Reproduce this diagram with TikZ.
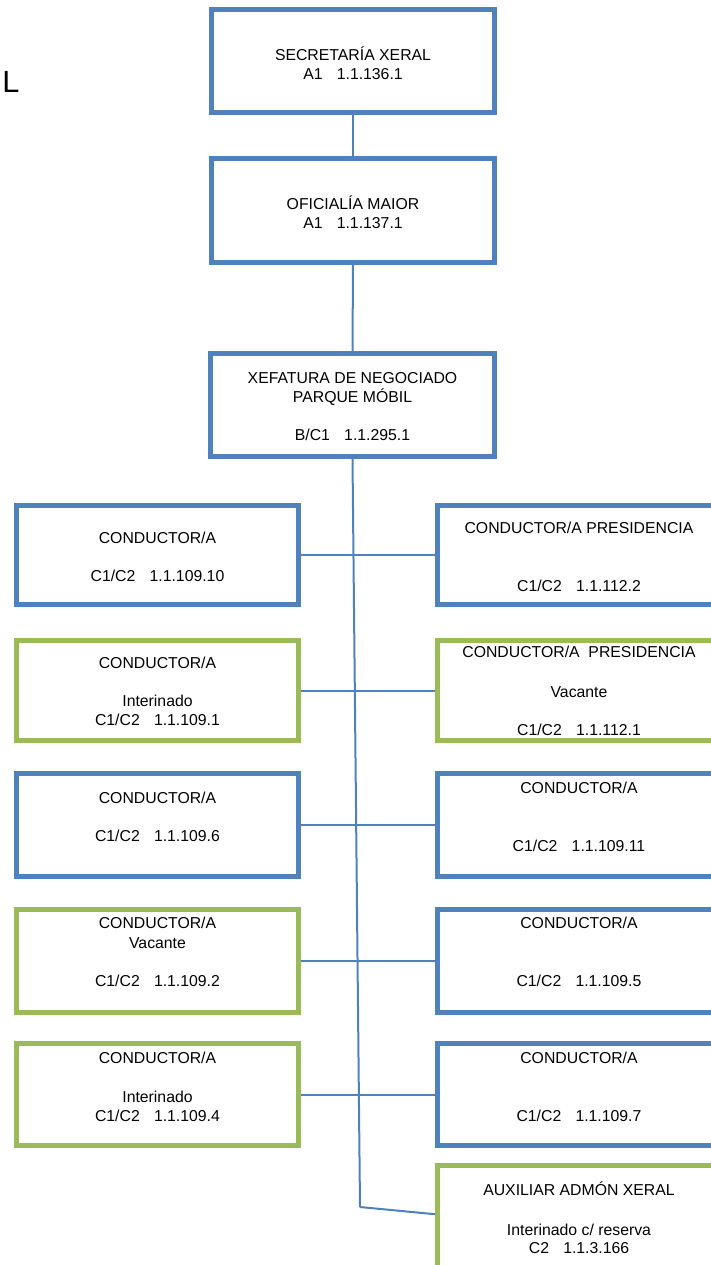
\documentclass[tikz,border=0pt]{standalone}
\usepackage{fontspec}
\setmainfont{Liberation Sans}
\usetikzlibrary{calc}
\definecolor{boxblue}{HTML}{4F81BD}
\definecolor{boxgreen}{HTML}{9BBB59}
\newcommand\sgap{\hspace{0.9em}}
\begin{document}
\begin{tikzpicture}[x=0.75pt,y=-0.75pt,
  box/.style={draw, line width=3.4pt, inner sep=0pt, fill=white},
  blubox/.style={box, draw=boxblue},
  grnbox/.style={box, draw=boxgreen},
  sz/.style 2 args={minimum width=#1*0.75pt, minimum height=#2*0.75pt},
  txt/.style={font=\fontsize{11.85}{14.25}\selectfont, align=center, inner sep=0pt},
  link/.style={draw=boxblue, line width=1.5pt},
]
\useasboundingbox (0,0) rectangle (711,1265);
\begin{scope}
\clip (0,0) rectangle (711,1265);

\node[font=\fontsize{23}{28}\selectfont, inner sep=0pt, anchor=base west] (lbl) at (2,92) {L};

% top chain
\node[blubox, sz={283}{103}] (sec) at (353,61) {};
\node[txt] (secT) at (353,63) {SECRETARÍA XERAL\\A1\sgap 1.1.136.1};
\node[blubox, sz={283}{104}] (ofi) at (353,210.5) {};
\node[txt] (ofiT) at (353,212) {OFICIALÍA MAIOR\\A1\sgap 1.1.137.1};
\node[blubox, sz={284}{103}] (xef) at (352.5,405) {};
\node[txt] (xefT) at (352.5,406.5) {XEFATURA DE NEGOCIADO\\PARQUE MÓBIL\\[14.25pt]B/C1\sgap 1.1.295.1};

% row 1
\node[blubox, sz={282}{99}] (b1L) at (157.5,555) {};
\node[txt] (t1L) at (157.5,557) {CONDUCTOR/A\\[14.25pt]C1/C2\sgap 1.1.109.10};
\node[blubox, sz={282}{99}] (b1R) at (578.5,555) {};
\node[txt] (t1R) at (579,557) {CONDUCTOR/A PRESIDENCIA\\[29.25pt]C1/C2\sgap 1.1.112.2};

% row 2
\node[grnbox, sz={282}{100}] (b2L) at (157.5,690.5) {};
\node[txt] (t2L) at (157.5,691.5) {CONDUCTOR/A\\[14.25pt]Interinado\\C1/C2\sgap 1.1.109.1};
\node[grnbox, sz={282}{100}] (b2R) at (578.5,690.5) {};
\node[txt] (t2R) at (579,691) {CONDUCTOR/A\ \ PRESIDENCIA\\[15.75pt]Vacante\\[14.25pt]C1/C2\sgap 1.1.112.1};

% row 3
\node[blubox, sz={282}{103}] (b3L) at (157.5,825) {};
\node[txt] (t3L) at (157.5,817) {CONDUCTOR/A\\[14.25pt]C1/C2\sgap 1.1.109.6};
\node[blubox, sz={282}{103}] (b3R) at (578.5,825) {};
\node[txt] (t3R) at (579,817) {CONDUCTOR/A\\[29.25pt]C1/C2\sgap 1.1.109.11};

% row 4
\node[grnbox, sz={282}{103}] (b4L) at (157.5,961) {};
\node[txt] (t4L) at (157.5,952) {CONDUCTOR/A\\[0.75pt]Vacante\\[14.25pt]C1/C2\sgap 1.1.109.2};
\node[blubox, sz={282}{103}] (b4R) at (578.5,961) {};
\node[txt] (t4R) at (579,952) {CONDUCTOR/A\\[29.25pt]C1/C2\sgap 1.1.109.5};

% row 5
\node[grnbox, sz={282}{102}] (b5L) at (157.5,1094.5) {};
\node[txt] (t5L) at (157.5,1087) {CONDUCTOR/A\\[15pt]Interinado\\C1/C2\sgap 1.1.109.4};
\node[blubox, sz={282}{102}] (b5R) at (578.5,1094.5) {};
\node[txt] (t5R) at (579,1087) {CONDUCTOR/A\\[29.25pt]C1/C2\sgap 1.1.109.7};

% auxiliar
\node[grnbox, sz={282}{200}] (aux) at (578.5,1265.5) {};
\node[txt] (auxT) at (579,1217.5) {AUXILIAR ADMÓN XERAL\\[15.75pt]Interinado c/ reserva\\[-0.75pt]C2\sgap 1.1.3.166};

% connectors
\draw[link] (sec.south) -- (ofi.north);
\draw[link] (ofi.south) -- (xef.north);
\coordinate (tend) at (360,1207);
\draw[link] (xef.south) -- (tend);
\draw[link] (tend) -- ($(aux.north west)+(0,51)$);
\draw[link] (b1L.east) -- (b1R.west);
\draw[link] (b2L.east) -- (b2R.west);
\draw[link] (b3L.east) -- (b3R.west);
\draw[link] (b4L.east) -- (b4R.west);
\draw[link] (b5L.east) -- (b5R.west);
\end{scope}
\end{tikzpicture}
\end{document}
